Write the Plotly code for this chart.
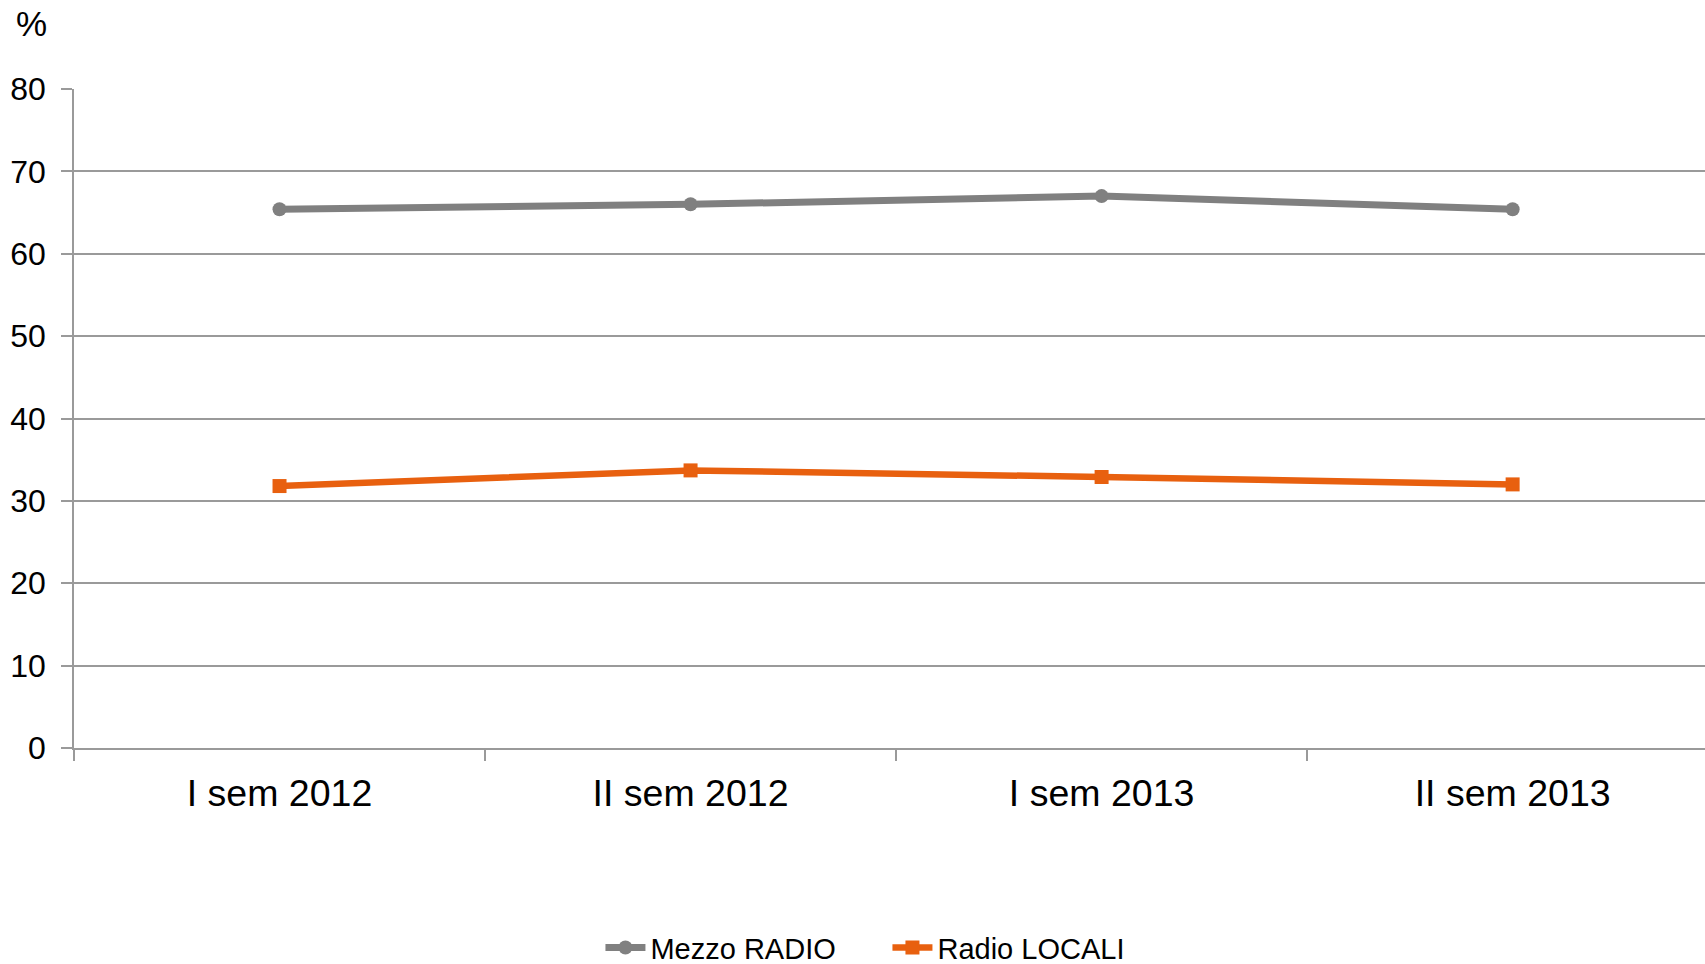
import plotly.graph_objects as go

# Semesters on the category axis
periods = ["I sem 2012", "II sem 2012", "I sem 2013", "II sem 2013"]

# Share of listeners (%)
mezzo_radio = [65.4, 66.0, 67.0, 65.4]
radio_locali = [31.8, 33.7, 32.9, 32.0]

y_ticks = [0, 10, 20, 30, 40, 50, 60, 70, 80]

GRAY = "#808080"
ORANGE = "#E8600F"
GRID = "#9A9A9A"
FONT = "Liberation Sans, Arial, sans-serif"

fig = go.Figure()
fig.add_trace(go.Scatter(
    x=periods, y=mezzo_radio, name="Mezzo RADIO", mode="lines+markers",
    line=dict(color=GRAY, width=7),
    marker=dict(symbol="circle", size=14, color=GRAY),
))
fig.add_trace(go.Scatter(
    x=periods, y=radio_locali, name="Radio LOCALI", mode="lines+markers",
    line=dict(color=ORANGE, width=6.5),
    marker=dict(symbol="square", size=14, color=ORANGE),
))

fig.update_layout(
    width=1705, height=964,
    margin=dict(l=74, r=0, t=89, b=216, autoexpand=False),
    paper_bgcolor="white", plot_bgcolor="white",
    font=dict(family=FONT, color="#000000"),
    showlegend=True,
    legend=dict(
        orientation="h", xref="container", x=0.5205, xanchor="center",
        yref="paper", y=-0.303, yanchor="middle",
        font=dict(size=29, color="#000000"),
        itemwidth=40, entrywidth=232, tracegroupgap=0,
    ),
    annotations=[dict(
        text="%", xref="paper", yref="paper", x=-0.026, y=1.0,
        xanchor="center", yanchor="bottom", yshift=44,
        showarrow=False, font=dict(size=35, color="#000000"),
    )],
)

fig.update_xaxes(
    type="category", range=[-0.5, 3.468],
    showline=True, linecolor=GRID, linewidth=1.5,
    ticks="outside", tickson="boundaries", ticklen=11,
    tickcolor=GRID, tickwidth=1.5,
    showgrid=False, zeroline=False,
    ticklabelstandoff=11, tickangle=0, automargin=False,
    tickfont=dict(size=37.5, color="#000000"),
)
fig.update_yaxes(
    range=[0, 80], tickvals=y_ticks,
    showline=True, linecolor=GRID, linewidth=1.5,
    ticks="outside", ticklen=11, tickcolor=GRID, tickwidth=1.5,
    showgrid=True, gridcolor=GRID, gridwidth=1.5,
    zeroline=False, automargin=False,
    ticklabelstandoff=9,
    tickfont=dict(size=32, color="#000000"),
)

fig.write_html("out.html")
